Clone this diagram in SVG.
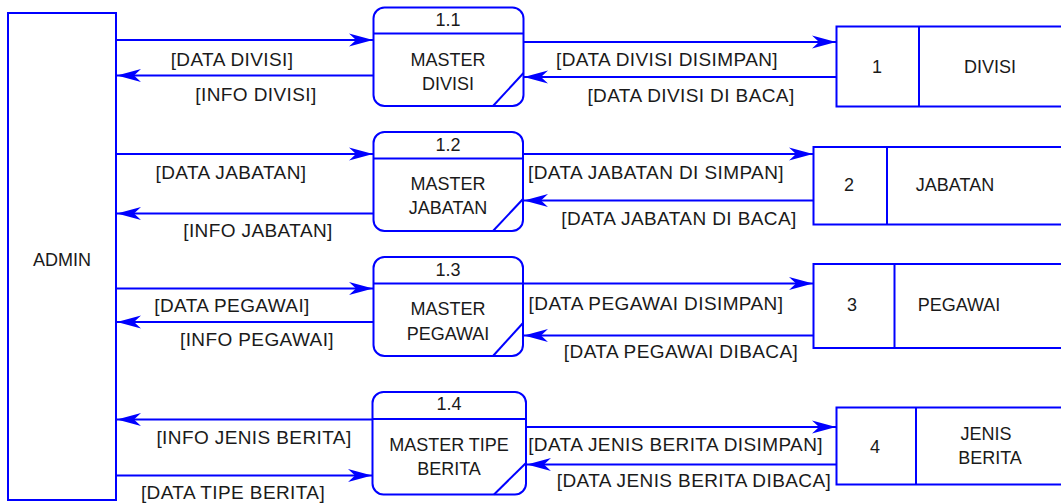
<svg xmlns="http://www.w3.org/2000/svg" width="1061" height="504" viewBox="0 0 1061 504">
<style>
.s{fill:#fff;stroke:#0000ff;stroke-width:2}
.l{fill:none;stroke:#0000ff;stroke-width:2}
text{font-family:"Liberation Sans",Arial,sans-serif;font-size:18px;fill:#1a1a1a}
.c{text-anchor:middle}
.lb{text-anchor:middle;letter-spacing:0.4px;font-size:19px}
</style>
<defs>
<marker id="ah" markerUnits="userSpaceOnUse" markerWidth="28" markerHeight="18" viewBox="-26 -9 28 18" refX="0" refY="0" orient="auto">
<path d="M0,0 L-24,-6.5 L-17,0 L-24,6.5 Z" fill="#0000ff"/>
</marker>
</defs>
<g id="connectors">
<line class="l" x1="116" y1="40" x2="373" y2="40" marker-end="url(#ah)"/>
<line class="l" x1="373" y1="75.5" x2="117" y2="75.5" marker-end="url(#ah)"/>
<line class="l" x1="523" y1="42" x2="836" y2="42" marker-end="url(#ah)"/>
<line class="l" x1="836" y1="77" x2="524" y2="77" marker-end="url(#ah)"/>
<line class="l" x1="116" y1="154" x2="373" y2="154" marker-end="url(#ah)"/>
<line class="l" x1="373" y1="213.5" x2="117" y2="213.5" marker-end="url(#ah)"/>
<line class="l" x1="523" y1="154" x2="813" y2="154" marker-end="url(#ah)"/>
<line class="l" x1="813" y1="200.5" x2="524" y2="200.5" marker-end="url(#ah)"/>
<line class="l" x1="116" y1="288.5" x2="373" y2="288.5" marker-end="url(#ah)"/>
<line class="l" x1="373" y1="322" x2="117" y2="322" marker-end="url(#ah)"/>
<line class="l" x1="523" y1="283.5" x2="813" y2="283.5" marker-end="url(#ah)"/>
<line class="l" x1="813" y1="335.5" x2="524" y2="335.5" marker-end="url(#ah)"/>
<line class="l" x1="372" y1="419.5" x2="117" y2="419.5" marker-end="url(#ah)"/>
<line class="l" x1="116" y1="475.5" x2="372" y2="475.5" marker-end="url(#ah)"/>
<line class="l" x1="526" y1="427" x2="836" y2="427" marker-end="url(#ah)"/>
<line class="l" x1="836" y1="464.5" x2="527" y2="464.5" marker-end="url(#ah)"/>
</g>
<g id="labels">
<text class="lb" x="232" y="66">[DATA DIVISI]</text>
<text class="lb" x="256" y="101">[INFO DIVISI]</text>
<text class="lb" x="667" y="66">[DATA DIVISI DISIMPAN]</text>
<text class="lb" x="691" y="102">[DATA DIVISI DI BACA]</text>
<text class="lb" x="231" y="179">[DATA JABATAN]</text>
<text class="lb" x="258" y="237">[INFO JABATAN]</text>
<text class="lb" x="656" y="179">[DATA JABATAN DI SIMPAN]</text>
<text class="lb" x="679" y="225">[DATA JABATAN DI BACA]</text>
<text class="lb" x="232" y="312">[DATA PEGAWAI]</text>
<text class="lb" x="257" y="346">[INFO PEGAWAI]</text>
<text class="lb" x="656" y="310">[DATA PEGAWAI DISIMPAN]</text>
<text class="lb" x="681" y="358">[DATA PEGAWAI DIBACA]</text>
<text class="lb" x="254" y="444">[INFO JENIS BERITA]</text>
<text class="lb" x="233" y="499">[DATA TIPE BERITA]</text>
<text class="lb" x="823" y="451" style="text-anchor:end">[DATA JENIS BERITA DISIMPAN]</text>
<text class="lb" x="694" y="487">[DATA JENIS BERITA DIBACA]</text>
</g>
<g id="admin">
<rect class="s" x="8" y="13" width="108" height="487"/>
<text class="c" x="62" y="266">ADMIN</text>
</g>
<g id="p1_1">
<rect class="s" x="373.5" y="7.5" width="150" height="98.5" rx="11"/>
<line class="l" x1="373.5" y1="33.5" x2="523.5" y2="33.5"/>
<line class="l" x1="493" y1="106" x2="523.5" y2="73"/>
<text class="c" x="448" y="26">1.1</text>
<text class="c" x="448" y="66">MASTER</text>
<text class="c" x="448" y="90">DIVISI</text>
</g>
<g id="p1_2">
<rect class="s" x="373.5" y="132" width="149.5" height="99" rx="11"/>
<line class="l" x1="373.5" y1="158.5" x2="523" y2="158.5"/>
<line class="l" x1="493" y1="231" x2="523" y2="199"/>
<text class="c" x="448" y="151">1.2</text>
<text class="c" x="448" y="190">MASTER</text>
<text class="c" x="448" y="214">JABATAN</text>
</g>
<g id="p1_3">
<rect class="s" x="373.5" y="257" width="149.5" height="99" rx="11"/>
<line class="l" x1="373.5" y1="283.5" x2="523" y2="283.5"/>
<line class="l" x1="493" y1="356" x2="523" y2="323"/>
<text class="c" x="448" y="276">1.3</text>
<text class="c" x="448" y="315">MASTER</text>
<text class="c" x="448" y="340">PEGAWAI</text>
</g>
<g id="p1_4">
<rect class="s" x="372.5" y="392" width="153.5" height="102.5" rx="11"/>
<line class="l" x1="372.5" y1="419" x2="526" y2="419"/>
<line class="l" x1="494" y1="494.5" x2="526" y2="463"/>
<text class="c" x="449" y="410">1.4</text>
<text class="c" x="449" y="451">MASTER TIPE</text>
<text class="c" x="449" y="475">BERITA</text>
</g>
<g id="store1">
<rect class="s" x="836.5" y="26.5" width="240" height="80"/>
<line class="l" x1="919" y1="26.5" x2="919" y2="106.5"/>
<text class="c" x="877" y="73">1</text>
<text class="c" x="990" y="73">DIVISI</text>
</g>
<g id="store2">
<rect class="s" x="813.5" y="147" width="260" height="77.5"/>
<line class="l" x1="887" y1="147" x2="887" y2="224.5"/>
<text class="c" x="849" y="191">2</text>
<text class="c" x="955" y="191">JABATAN</text>
</g>
<g id="store3">
<rect class="s" x="813.5" y="264" width="260" height="84"/>
<line class="l" x1="894.5" y1="264" x2="894.5" y2="348"/>
<text class="c" x="852" y="311">3</text>
<text class="c" x="959" y="311">PEGAWAI</text>
</g>
<g id="store4">
<rect class="s" x="836.5" y="407.5" width="240" height="77"/>
<line class="l" x1="916" y1="407.5" x2="916" y2="484.5"/>
<text class="c" x="875" y="453">4</text>
<text class="c" x="986" y="440">JENIS</text>
<text class="c" x="990" y="464">BERITA</text>
</g>
</svg>
